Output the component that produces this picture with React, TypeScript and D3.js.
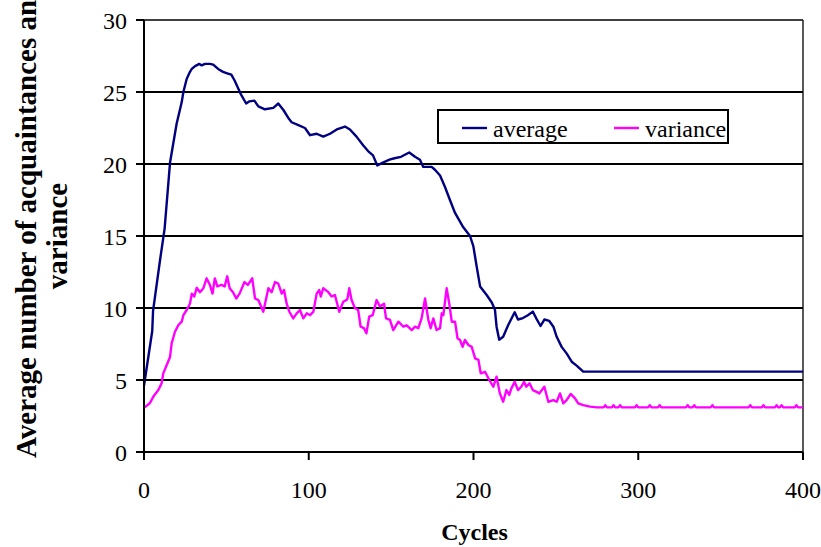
import React from "react";
import * as d3 from "d3";

const xTicks = [0, 100, 200, 300, 400];
const yTicks = [0, 5, 10, 15, 20, 25, 30];
const seriesNames = ["average", "variance"];

const averageData: [number, number][] = [
  [0, 4.6], [5, 8.4], [5.5, 9.8], [9.7, 13.3], [12.5, 15.5], [15.8, 20.1], [19.8, 22.8], [22.9, 24.3],
  [23.9, 25.0], [25.9, 25.9], [27.9, 26.4], [29, 26.6], [31, 26.8], [33.6, 26.95], [35, 26.85], [37, 26.95],
  [40, 26.95], [42, 26.9], [45, 26.6], [48, 26.4], [50.5, 26.3], [53, 26.2], [55, 25.8], [57, 25.3],
  [59, 24.8], [62, 24.2], [64, 24.35], [67, 24.4], [69.4, 24.0], [73.4, 23.8], [78.5, 23.9], [81.5, 24.2],
  [84.6, 23.75], [87.6, 23.2], [89.6, 22.9], [93.7, 22.7], [97.7, 22.5], [100.8, 22.0], [104.8, 22.1],
  [108.8, 21.9], [112.9, 22.1], [117, 22.4], [122, 22.6], [125, 22.4], [129, 21.9], [133, 21.3],
  [136, 20.9], [139, 20.6], [141.6, 19.9], [145, 20.1], [149, 20.3], [152, 20.4], [156, 20.5],
  [161, 20.8], [164.5, 20.5], [167.5, 20.3], [169.5, 19.8], [174.6, 19.8], [176.6, 19.6], [179.7, 19.2],
  [182.7, 18.4], [185.7, 17.5], [188.8, 16.6], [193.8, 15.6], [197.9, 15.0], [199.9, 14.3], [201.9, 12.9],
  [204, 11.5], [208, 10.9], [211, 10.4], [213, 9.9], [214, 8.7], [215.6, 7.8], [218, 8.0], [221, 8.8],
  [225, 9.7], [227, 9.2], [230, 9.3], [233, 9.5], [236, 9.75], [238, 9.3], [240.7, 8.75], [243, 9.2],
  [246, 9.1], [248.5, 8.7], [250.5, 8.0], [253.5, 7.3], [256.5, 6.85], [259.6, 6.27], [262.6, 6.0],
  [266.6, 5.58], [400, 5.58],
];

const varianceData: [number, number][] = [
  [0, 3.1], [1, 3.15], [3.6, 3.4], [5.7, 3.85], [8.7, 4.3], [10.7, 4.77], [11.7, 5.46], [13.8, 6.04],
  [15.8, 6.6], [16.8, 7.55], [18.8, 8.35], [20.8, 8.8], [22.9, 9.05], [23.9, 9.5], [25.9, 9.86],
  [27.9, 10.3], [29, 11.0], [30.5, 10.8], [32, 11.4], [34, 11.1], [36, 11.37], [38, 12.06], [40, 11.6],
  [41.6, 11.0], [43, 12.06], [44.5, 11.5], [47, 11.6], [49, 11.5], [50.5, 12.2], [52, 11.37], [54, 11.1],
  [56, 10.66], [58, 11.0], [61, 11.8], [63, 11.6], [65.7, 12.06], [67.4, 10.66], [69.4, 10.55],
  [72.4, 9.74], [75.5, 11.37], [77.5, 11.1], [79.5, 11.8], [81.5, 11.7], [83.6, 11.0], [85, 11.25],
  [86.6, 10.3], [88.2, 9.74], [90.6, 9.28], [92.7, 9.63], [94.7, 9.86], [96.7, 9.28], [98.8, 9.63],
  [100.8, 9.5], [102.8, 9.74], [104.8, 11.0], [106.4, 11.25], [107.3, 10.8], [108.8, 11.37],
  [111.9, 11.1], [113.9, 10.8], [115.9, 10.9], [118.5, 9.74], [121, 10.44], [123.4, 10.6],
  [124.6, 11.37], [126, 10.55], [128, 10.0], [130, 9.86], [131.5, 8.7], [133.5, 8.6], [135, 8.24],
  [136.7, 9.4], [138.8, 9.5], [141.2, 10.55], [143.2, 10.1], [145.7, 10.3], [146.9, 9.28], [149.3, 9.17],
  [151.3, 8.47], [154.4, 9.05], [157.4, 8.7], [159.5, 8.8], [162.5, 8.47], [164.5, 8.7], [166.5, 8.6],
  [168.5, 9.28], [170.6, 10.66], [172.6, 9.17], [174, 8.6], [175.6, 9.28], [177.6, 8.47], [179.7, 8.6],
  [180.7, 9.63], [181.7, 9.5], [183.7, 11.37], [185.3, 10.3], [186.8, 9.05], [188.8, 9.05], [190.3, 7.9],
  [191.8, 7.78], [193.4, 7.3], [194.8, 7.78], [196.9, 7.43], [198.9, 7.3], [201, 6.5], [203, 6.4],
  [204.4, 5.46], [207, 5.57], [209.6, 5.0], [212, 4.53], [214, 5.23], [216, 4.07], [218, 3.49],
  [220, 4.3], [221.7, 3.96], [223, 4.42], [225, 4.88], [227, 4.3], [229, 4.53], [230.7, 4.88],
  [232, 4.53], [234, 4.77], [236, 4.3], [238, 4.19], [240, 4.07], [243, 4.53], [245.4, 3.49],
  [248.5, 3.6], [250.5, 3.49], [252.5, 4.07], [254.5, 3.38], [256.5, 3.6], [259, 4.03], [261.6, 3.73],
  [263.6, 3.38], [266.6, 3.26], [270.7, 3.15], [275, 3.1],
  [279, 3.1], [280, 3.25], [281, 3.1], [284, 3.1], [285, 3.25], [286, 3.1], [288, 3.1], [289, 3.25],
  [290, 3.1], [298, 3.1], [299, 3.25], [300, 3.1], [306, 3.1], [307, 3.25], [308, 3.1], [312, 3.1],
  [313, 3.25], [314, 3.1], [329, 3.1], [330, 3.25], [331, 3.1], [333, 3.1], [334, 3.25], [335, 3.1],
  [344, 3.1], [345, 3.25], [346, 3.1], [367, 3.1], [368, 3.25], [369, 3.1], [375, 3.1], [376, 3.25],
  [377, 3.1], [383, 3.1], [384, 3.25], [385, 3.1], [386, 3.1], [387, 3.25], [388, 3.1], [395, 3.1],
  [396, 3.25], [397, 3.1], [400, 3.1],
];

const W = 821;
const H = 547;
const left = 144;
const right = 803;
const top = 20;
const bottom = 452;
const font = "'Liberation Serif', 'Times New Roman', serif";

export default function App() {
  const x = d3.scaleLinear().domain([0, 400]).range([left, right]);
  const y = d3.scaleLinear().domain([0, 30]).range([bottom, top]);
  const line = d3
    .line<[number, number]>()
    .x((d) => x(d[0]))
    .y((d) => y(d[1]));

  return (
    <svg
      width={W}
      height={H}
      style={{ position: "absolute", left: 0, top: 0, background: "#fff" }}
      fontFamily={font}
    >
      <rect x={0} y={0} width={W} height={H} fill="#fff" />
      {/* gridlines */}
      {yTicks.filter((t) => t > 0 && t < 30).map((t) => (
        <line key={t} x1={left} x2={right} y1={y(t)} y2={y(t)} stroke="#000" strokeWidth={2} />
      ))}
      {/* top and right border */}
      <line x1={left} x2={right} y1={y(30)} y2={y(30)} stroke="#000" strokeWidth={1.3} />
      <line x1={right} x2={right} y1={top} y2={bottom} stroke="#000" strokeWidth={1.3} />
      {/* series */}
      <path d={line(varianceData) || ""} fill="none" stroke="#FF00FF" strokeWidth={2.4} strokeLinejoin="round" />
      <path d={line(averageData) || ""} fill="none" stroke="#000080" strokeWidth={2.4} strokeLinejoin="round" />
      {/* axes */}
      <line x1={left} x2={left} y1={top} y2={bottom} stroke="#000" strokeWidth={2} />
      <line x1={left} x2={right} y1={bottom} y2={bottom} stroke="#000" strokeWidth={2} />
      {yTicks.map((t) => (
        <g key={t}>
          <line x1={left - 8} x2={left} y1={y(t)} y2={y(t)} stroke="#000" strokeWidth={2} />
          <text x={127} y={y(t) + 8.5} textAnchor="end" fontSize={24} fill="#000">
            {t}
          </text>
        </g>
      ))}
      {xTicks.map((t) => (
        <g key={t}>
          <line x1={x(t)} x2={x(t)} y1={bottom} y2={bottom + 8} stroke="#000" strokeWidth={2} />
          <text x={x(t)} y={498} textAnchor="middle" fontSize={24} fill="#000">
            {t}
          </text>
        </g>
      ))}
      {/* axis titles */}
      <text x={(left + right) / 2 + 1} y={540} textAnchor="middle" fontSize={24} fontWeight="bold">
        Cycles
      </text>
      <text transform={`translate(36,458) rotate(-90)`} textAnchor="start" fontSize={29} fontWeight="bold">
        Average number of acquaintances and
      </text>
      <text transform={`translate(67,236) rotate(-90)`} textAnchor="middle" fontSize={29} fontWeight="bold">
        variance
      </text>
      {/* legend */}
      <rect x={438} y={110} width={290} height={33} fill="#fff" stroke="#000" strokeWidth={2} />
      <line x1={462} x2={487} y1={128} y2={128} stroke="#000080" strokeWidth={2.4} />
      <text x={493} y={137} fontSize={24} fill="#000">
        {seriesNames[0]}
      </text>
      <line x1={614} x2={639} y1={128} y2={128} stroke="#FF00FF" strokeWidth={2.4} />
      <text x={645} y={137} fontSize={24} fill="#000">
        {seriesNames[1]}
      </text>
    </svg>
  );
}
